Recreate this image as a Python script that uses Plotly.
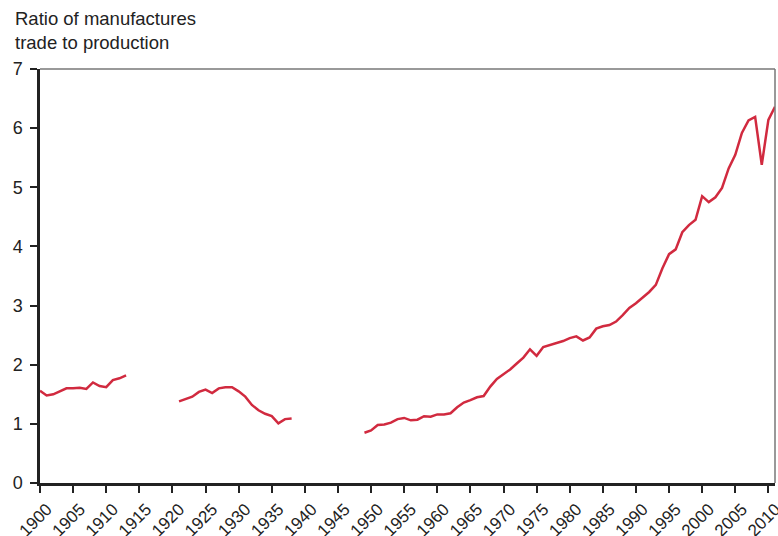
import plotly.graph_objects as go

years = list(range(1900, 2012))

seg1_years = list(range(1900, 1914))
seg1_vals = [1.56, 1.48, 1.50, 1.55, 1.60, 1.60, 1.61, 1.59, 1.70, 1.64, 1.62, 1.74, 1.77, 1.82]

seg2_years = list(range(1921, 1939))
seg2_vals = [1.38, 1.42, 1.46, 1.54, 1.58, 1.52, 1.60, 1.62, 1.62, 1.55, 1.46, 1.32, 1.23, 1.17,
             1.13, 1.01, 1.08, 1.09]

seg3_years = list(range(1949, 2012))
seg3_vals = [0.85, 0.89, 0.98, 0.99, 1.02, 1.08, 1.10, 1.06, 1.07, 1.13, 1.12, 1.16, 1.16, 1.18,
             1.28, 1.36, 1.40, 1.45, 1.47, 1.63, 1.76, 1.84, 1.92, 2.02, 2.12, 2.26, 2.15, 2.30,
             2.33, 2.36, 2.40, 2.45, 2.48, 2.41, 2.46, 2.61, 2.65, 2.67, 2.73, 2.84, 2.96, 3.04,
             3.13, 3.23, 3.35, 3.63, 3.87, 3.95, 4.24, 4.36, 4.45, 4.85, 4.75, 4.83, 4.99, 5.32,
             5.55, 5.92, 6.13, 6.19, 5.38, 6.14, 6.36]

x_ticks = list(range(1900, 2011, 5))
y_ticks = list(range(0, 8))

lookup = {}
for ys, vs in ((seg1_years, seg1_vals), (seg2_years, seg2_vals), (seg3_years, seg3_vals)):
    for y, v in zip(ys, vs):
        lookup[y] = v
values = [lookup.get(y) for y in years]

font = "Liberation Sans, Arial, sans-serif"

fig = go.Figure()
fig.add_trace(go.Scatter(x=years, y=values, mode="lines", connectgaps=False,
                         line=dict(color="#d12a3f", width=2.5), hoverinfo="skip"))

fig.update_layout(
    width=778, height=536,
    margin=dict(l=40, r=3, t=69, b=53, autoexpand=False),
    paper_bgcolor="white", plot_bgcolor="white",
    showlegend=False,
    font=dict(family=font, size=16, color="#222"),
)
fig.update_xaxes(range=[1900, 2011], tickmode="array", tickvals=x_ticks,
                 ticktext=[str(t) for t in x_ticks], tickangle=-45, automargin=False,
                 showgrid=False, zeroline=False, showline=True, linecolor="#222", linewidth=2.5,
                 ticks="outside", ticklen=7, tickwidth=1.5, tickcolor="#222",
                 ticklabelstandoff=0, ticklabelshift=7, ticklabeloverflow="allow",
                 tickfont=dict(family=font, size=17, color="#222"))
fig.update_yaxes(range=[0, 7], tickmode="array", tickvals=y_ticks, automargin=False,
                 showgrid=False, zeroline=False, showline=True, linecolor="#222", linewidth=2.5,
                 ticks="outside", ticklen=7, tickwidth=1.5, tickcolor="#222",
                 ticklabelstandoff=4,
                 tickfont=dict(family=font, size=18, color="#222"))

fig.add_shape(type="line", xref="paper", yref="paper", x0=0, x1=1, y0=1, y1=1,
              line=dict(color="#777", width=1.5))
fig.add_shape(type="line", xref="paper", yref="paper", x0=1, x1=1, y0=0, y1=1,
              line=dict(color="#777", width=1.5))

fig.add_annotation(text="Ratio of manufactures<br>trade to production",
                   xref="paper", yref="paper", x=-0.037, y=1.0, yshift=63,
                   xanchor="left", yanchor="top", align="left", showarrow=False,
                   font=dict(family=font, size=18.5, color="#222"))

fig.write_html("out.html", config={"displayModeBar": False},
               post_script="document.body.style.margin='0';document.body.style.overflow='hidden';")
